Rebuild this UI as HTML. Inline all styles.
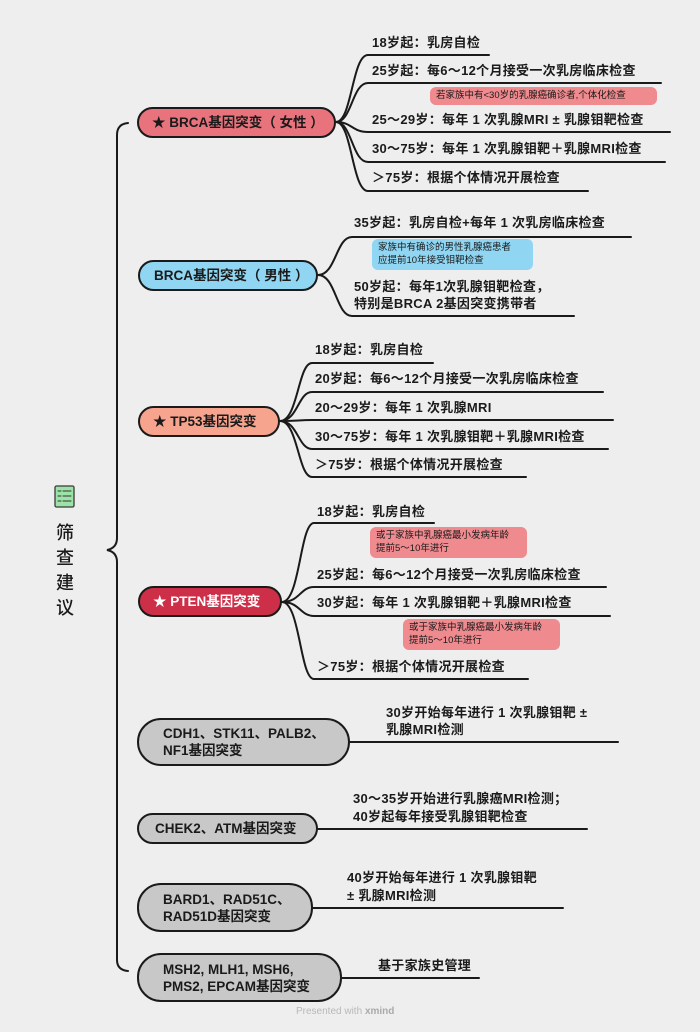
<!DOCTYPE html>
<html><head><meta charset="utf-8">
<style>
body{margin:0;width:700px;height:1032px;background:#eeeeee;position:relative;overflow:hidden;font-family:"Liberation Sans","Noto Sans CJK SC",sans-serif;color:#1a1a1a}
.t{position:absolute;font-size:13px;font-weight:700;line-height:18px;white-space:nowrap;letter-spacing:0.3px}
.n{position:absolute;border:2.5px solid #1a1a1a;border-radius:18px;box-sizing:border-box;font-size:13.5px;font-weight:700;line-height:17px;padding-left:16px;display:flex;align-items:center;white-space:nowrap;letter-spacing:0}
.note{position:absolute;font-size:9.5px;line-height:13px;border-radius:6px;padding:2px 6px;box-sizing:border-box;white-space:nowrap}
svg{position:absolute;left:0;top:0}
</style></head><body>
<svg width="700" height="1032" fill="none" stroke="#1a1a1a" stroke-width="2" stroke-linecap="round">
<path d="M128 123 Q117 124 117 135 L117 538 Q117 548 107 550 Q117 552 117 562 L117 960 Q117 970 128 971"/>
<g>
<path d="M336 122 C352 122 352 55 368 55 L489 55"/>
<path d="M336 122 C352 122 352 83 368 83 L661 83"/>
<path d="M336 122 C352 122 352 132 368 132 L670 132"/>
<path d="M336 122 C352 122 352 162 368 162 L665 162"/>
<path d="M336 122 C352 122 352 191 368 191 L588 191"/>
</g>
<path d="M318 275 C336 275 336 237 352 237 L631 237"/>
<path d="M318 275 C336 275 336 316 352 316 L574 316"/>
<path d="M280 421 C298 421 298 363 312 363 L433 363"/>
<path d="M280 421 C298 421 298 392 312 392 L603 392"/>
<path d="M280 421 C298 421 298 420 312 420 L613 420"/>
<path d="M280 421 C298 421 298 449 312 449 L608 449"/>
<path d="M280 421 C298 421 298 477 312 477 L526 477"/>
<path d="M282 602 C300 602 300 523 314 523 L434 523"/>
<path d="M282 602 C300 602 300 587 314 587 L606 587"/>
<path d="M282 602 C300 602 300 616 314 616 L610 616"/>
<path d="M282 602 C300 602 300 679 314 679 L528 679"/>
<path d="M350 742 L618 742"/>
<path d="M318 829 L587 829"/>
<path d="M313 908 L563 908"/>
<path d="M342 978 L479 978"/>
<rect x="55" y="486" width="19" height="21" rx="1.5" fill="#9be3a6" stroke="#3a3a3a" stroke-width="1.3"/>
<g stroke="#333" stroke-width="1">
<path d="M58 491h3M63 491h8M58 496h3M63 496h8M58 501h3M63 501h8"/>
</g>
</svg>

<div class="t" style="left:56px;top:521px;font-size:18px;line-height:25px;font-weight:500">筛<br>查<br>建<br>议</div>

<div class="n" style="left:137px;top:107px;width:199px;height:31px;background:#e8737d;padding-left:13px">★ BRCA基因突变（ 女性 ）</div>
<div class="t" style="left:372px;top:34px">18岁起：乳房自检</div>
<div class="t" style="left:372px;top:62px">25岁起：每6～12个月接受一次乳房临床检查</div>
<div class="note" style="left:430px;top:87px;width:227px;height:18px;background:#ef8a8f;line-height:14px">若家族中有&lt;30岁的乳腺癌确诊者,个体化检查</div>
<div class="t" style="left:372px;top:111px">25～29岁：每年 1 次乳腺MRI ± 乳腺钼靶检查</div>
<div class="t" style="left:372px;top:140px">30～75岁：每年 1 次乳腺钼靶＋乳腺MRI检查</div>
<div class="t" style="left:372px;top:169px">＞75岁：根据个体情况开展检查</div>

<div class="n" style="left:138px;top:260px;width:180px;height:31px;background:#90d5f2;padding-left:14px">BRCA基因突变（ 男性 ）</div>
<div class="t" style="left:354px;top:214px">35岁起：乳房自检+每年 1 次乳房临床检查</div>
<div class="note" style="left:372px;top:239px;width:161px;height:31px;background:#90d5f2">家族中有确诊的男性乳腺癌患者<br>应提前10年接受钼靶检查</div>
<div class="t" style="left:354px;top:278px">50岁起：每年1次乳腺钼靶检查，</div>
<div class="t" style="left:354px;top:295px">特别是BRCA 2基因突变携带者</div>

<div class="n" style="left:138px;top:406px;width:142px;height:31px;background:#f7a48e;padding-left:13px">★ TP53基因突变</div>
<div class="t" style="left:315px;top:341px">18岁起：乳房自检</div>
<div class="t" style="left:315px;top:370px">20岁起：每6～12个月接受一次乳房临床检查</div>
<div class="t" style="left:315px;top:399px">20～29岁：每年 1 次乳腺MRI</div>
<div class="t" style="left:315px;top:428px">30～75岁：每年 1 次乳腺钼靶＋乳腺MRI检查</div>
<div class="t" style="left:315px;top:456px">＞75岁：根据个体情况开展检查</div>

<div class="n" style="left:138px;top:586px;width:144px;height:31px;background:#cc2f47;color:#fff;padding-left:13px">★ PTEN基因突变</div>
<div class="t" style="left:317px;top:503px">18岁起：乳房自检</div>
<div class="note" style="left:370px;top:527px;width:157px;height:31px;background:#ef8a8f">或于家族中乳腺癌最小发病年龄<br>提前5～10年进行</div>
<div class="t" style="left:317px;top:566px">25岁起：每6～12个月接受一次乳房临床检查</div>
<div class="t" style="left:317px;top:594px">30岁起：每年 1 次乳腺钼靶＋乳腺MRI检查</div>
<div class="note" style="left:403px;top:619px;width:157px;height:31px;background:#ef8a8f">或于家族中乳腺癌最小发病年龄<br>提前5～10年进行</div>
<div class="t" style="left:317px;top:658px">＞75岁：根据个体情况开展检查</div>

<div class="n" style="left:137px;top:718px;width:213px;height:48px;background:#c8c8c8;border-radius:24px;padding-left:24px">CDH1、STK11、PALB2、<br>NF1基因突变</div>
<div class="t" style="left:386px;top:704px">30岁开始每年进行 1 次乳腺钼靶 ±</div>
<div class="t" style="left:386px;top:721px">乳腺MRI检测</div>

<div class="n" style="left:137px;top:813px;width:181px;height:31px;background:#c8c8c8">CHEK2、ATM基因突变</div>
<div class="t" style="left:353px;top:790px">30～35岁开始进行乳腺癌MRI检测；</div>
<div class="t" style="left:353px;top:808px">40岁起每年接受乳腺钼靶检查</div>

<div class="n" style="left:137px;top:883px;width:176px;height:49px;background:#c8c8c8;border-radius:24px;padding-left:24px">BARD1、RAD51C、<br>RAD51D基因突变</div>
<div class="t" style="left:347px;top:869px">40岁开始每年进行 1 次乳腺钼靶</div>
<div class="t" style="left:347px;top:887px">± 乳腺MRI检测</div>

<div class="n" style="left:137px;top:953px;width:205px;height:49px;background:#c8c8c8;border-radius:24px;padding-left:24px">MSH2, MLH1, MSH6,<br>PMS2, EPCAM基因突变</div>
<div class="t" style="left:378px;top:957px">基于家族史管理</div>

<div style="position:absolute;left:296px;top:1006px;font-size:10px;color:#b8b8b8;white-space:nowrap">Presented with <b style="color:#aaa">xmind</b></div>
</body></html>
